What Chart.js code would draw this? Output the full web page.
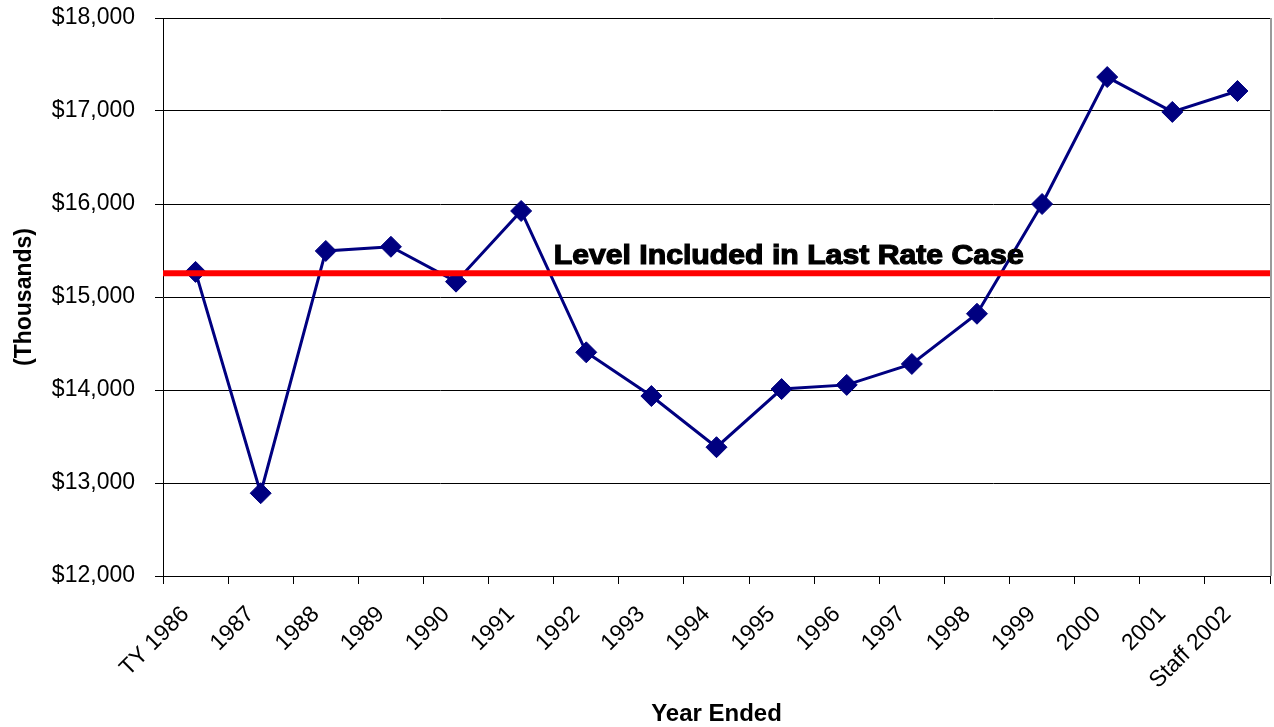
<!DOCTYPE html>
<html>
<head>
<meta charset="utf-8">
<script src="https://cdn.jsdelivr.net/npm/chart.js@4/dist/chart.umd.min.js"></script>
<style>
html,body{margin:0;padding:0;background:#fff;overflow:hidden;width:1274px;height:727px;}
#wrap{width:1274px;height:727px;position:relative;}
canvas{display:block;}
</style>
</head>
<body>
<div id="wrap"><canvas id="c"></canvas></div>
<script>
const categories = ['TY 1986','1987','1988','1989','1990','1991','1992','1993','1994','1995','1996','1997','1998','1999','2000','2001','Staff 2002'];
const values = [15270, 12890, 15495, 15540, 15165, 15925, 14405, 13935, 13385, 14010, 14055, 14280, 14820, 16000, 17365, 16990, 17215];
const rateCaseLevel = 15255;
const rateCaseLabel = 'Level Included in Last Rate Case';
const yTicks = [12000, 13000, 14000, 15000, 16000, 17000, 18000];

const FONT = '"Liberation Sans", Arial, sans-serif';

const overlay = {
  id: 'overlay',
  afterDatasetsDraw(chart) {
    const {ctx, chartArea, scales} = chart;
    const y = scales.y.getPixelForValue(rateCaseLevel);
    ctx.save();
    ctx.strokeStyle = '#9a9a9a';
    ctx.lineWidth = 2;
    ctx.beginPath();
    ctx.moveTo(chartArea.right + 1, chartArea.top);
    ctx.lineTo(chartArea.right + 1, chartArea.bottom);
    ctx.stroke();
    ctx.strokeStyle = '#ff0000';
    ctx.lineWidth = 6;
    ctx.beginPath();
    ctx.moveTo(chartArea.left, y);
    ctx.lineTo(chartArea.right, y);
    ctx.stroke();
    const x0 = scales.x.getPixelForValue(5.5);
    ctx.font = 'bold 28px ' + FONT;
    const w = ctx.measureText(rateCaseLabel).width;
    ctx.translate(x0, y - 9);
    ctx.scale(470 / w, 1);
    ctx.fillStyle = '#000';
    ctx.strokeStyle = '#000';
    ctx.lineWidth = 1.2;
    ctx.textBaseline = 'alphabetic';
    ctx.textAlign = 'left';
    ctx.fillText(rateCaseLabel, 0, 0);
    ctx.strokeText(rateCaseLabel, 0, 0);
    ctx.restore();
  }
};

new Chart(document.getElementById('c'), {
  type: 'line',
  data: {
    labels: categories,
    datasets: [{
      data: values,
      borderColor: '#000080',
      backgroundColor: '#000080',
      borderWidth: 3,
      pointStyle: 'rectRot',
      pointRadius: 10.5,
      pointHoverRadius: 10.5,
      pointBackgroundColor: '#000080',
      pointBorderColor: '#000080',
      pointBorderWidth: 1,
      tension: 0,
      fill: false
    }]
  },
  options: {
    responsive: true,
    maintainAspectRatio: false,
    animation: false,
    events: [],
    layout: {autoPadding: false, padding: {left: 0, right: 4, top: 18, bottom: 0}},
    plugins: {legend: {display: false}, tooltip: {enabled: false}},
    scales: {
      x: {
        type: 'category',
        offset: true,
        grid: {offset: true, drawOnChartArea: false, drawTicks: true, tickLength: 8, color: '#000', lineWidth: 1},
        border: {display: true, color: '#000', width: 1},
        ticks: {
          maxRotation: 45, minRotation: 45, autoSkip: false, padding: 17, labelOffset: -10,
          color: '#000', font: {family: FONT, size: 23}
        },
        title: {display: true, text: 'Year Ended', color: '#000', font: {family: FONT, size: 24, weight: 'bold'}, padding: {top: 0, bottom: -2}},
        afterFit(scale) { scale.height = 151; scale.paddingLeft = 0; scale.paddingRight = 0; scale.paddingTop = 0; scale.paddingBottom = 0; }
      },
      y: {
        min: 12000, max: 18000,
        afterBuildTicks(scale) { scale.ticks = yTicks.map(v => ({value: v})); },
        grid: {drawOnChartArea: true, drawTicks: true, tickLength: 8, color: '#000', lineWidth: 1},
        border: {display: true, color: '#000', width: 1},
        ticks: {
          padding: 20, color: '#000', font: {family: FONT, size: 23},
          callback: v => '$' + Number(v).toLocaleString('en-US')
        },
        title: {display: true, text: '(Thousands)', color: '#000', font: {family: FONT, size: 23, weight: 'bold'}, padding: {top: 11, bottom: 0}},
        afterFit(scale) { scale.width = 163; scale.paddingTop = 0; scale.paddingBottom = 0; scale.paddingLeft = 0; scale.paddingRight = 0; }
      }
    }
  },
  plugins: [overlay]
});
</script>
</body>
</html>
